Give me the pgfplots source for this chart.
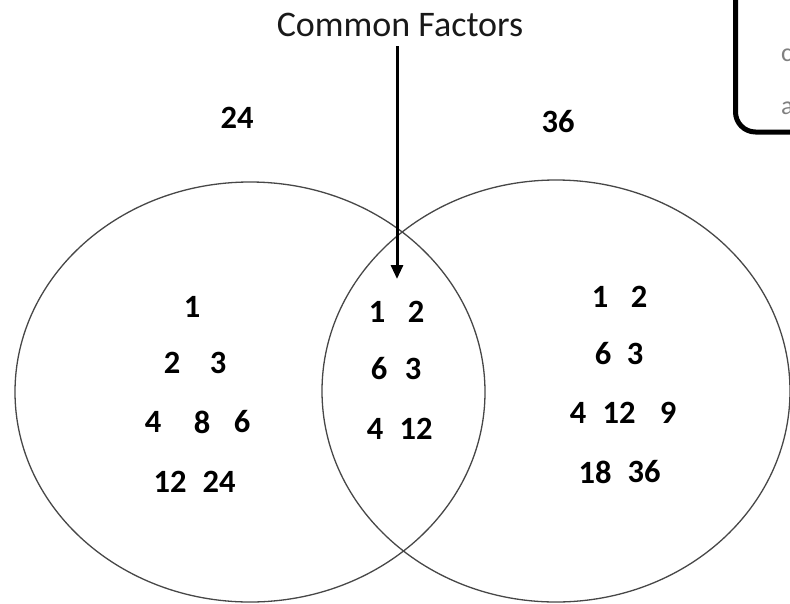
\documentclass[border=0pt]{standalone}
\usepackage{pgfplots}
\pgfplotsset{compat=1.18}
\usepackage{pgfplotstable}
\usetikzlibrary{arrows.meta}
\usepackage{fontspec}
\setmainfont{Carlito}

\pgfplotstableread{
x y label
192 307 1
172 363 2
218 363 3
153 422 4
202 422 8
242 422 6
170 482 12
219 482 24
}\leftset

\pgfplotstableread{
x y label
377 312 1
416 312 2
379 369 6
413 369 3
375 429 4
416 429 12
}\midset

\pgfplotstableread{
x y label
600 297 1
639 297 2
603 354 6
635 354 3
578 413 4
619 413 12
668 413 9
595 472 18
644 472 36
}\rightset

\pgfplotstableread{
x y label
237 118 24
558 122 36
}\topset

\begin{document}
\begin{tikzpicture}
\begin{axis}[
  width=790pt, height=603pt, scale only axis,
  xmin=0, xmax=790, ymin=0, ymax=603, y dir=reverse,
  hide axis, clip=false,
  every node near coord/.append style={anchor=center, black,
     font=\bfseries\fontsize{32.5}{32.5}\selectfont},
]
% circles
\draw[black!72, line width=1.3pt] (axis cs:250,392) ellipse [x radius=235, y radius=210];
\draw[black!72, line width=1.3pt] (axis cs:556,391) ellipse [x radius=234, y radius=211];
% arrow
\addplot[black, line width=3pt, -{Triangle[length=14pt,width=12pt]}] coordinates {(397,46) (397,279)};
% numbers
\addplot[draw=none, mark=none, nodes near coords, point meta=explicit symbolic] table[x=x,y=y,meta=label]{\leftset};
\addplot[draw=none, mark=none, nodes near coords, point meta=explicit symbolic] table[x=x,y=y,meta=label]{\midset};
\addplot[draw=none, mark=none, nodes near coords, point meta=explicit symbolic] table[x=x,y=y,meta=label]{\rightset};
\addplot[draw=none, mark=none, nodes near coords, point meta=explicit symbolic] table[x=x,y=y,meta=label]{\topset};
% title
\node[anchor=base, font=\fontsize{36}{36}\selectfont, text=black!90] at (axis cs:400,36) {Common Factors};
% box at top right
\draw[black, line width=5pt, rounded corners=20pt] (axis cs:735.5,-40) -- (axis cs:735.5,132) -- (axis cs:840,132);
\node[anchor=west, inner sep=0pt, text=black!50, font=\fontsize{26}{26}\selectfont] at (axis cs:781,55) {c};
\node[anchor=west, inner sep=0pt, text=black!50, font=\fontsize{26}{26}\selectfont] at (axis cs:781,108) {a};
\end{axis}
\pgfresetboundingbox
\path (0,0) rectangle (790pt,603pt);
\end{tikzpicture}
\end{document}
